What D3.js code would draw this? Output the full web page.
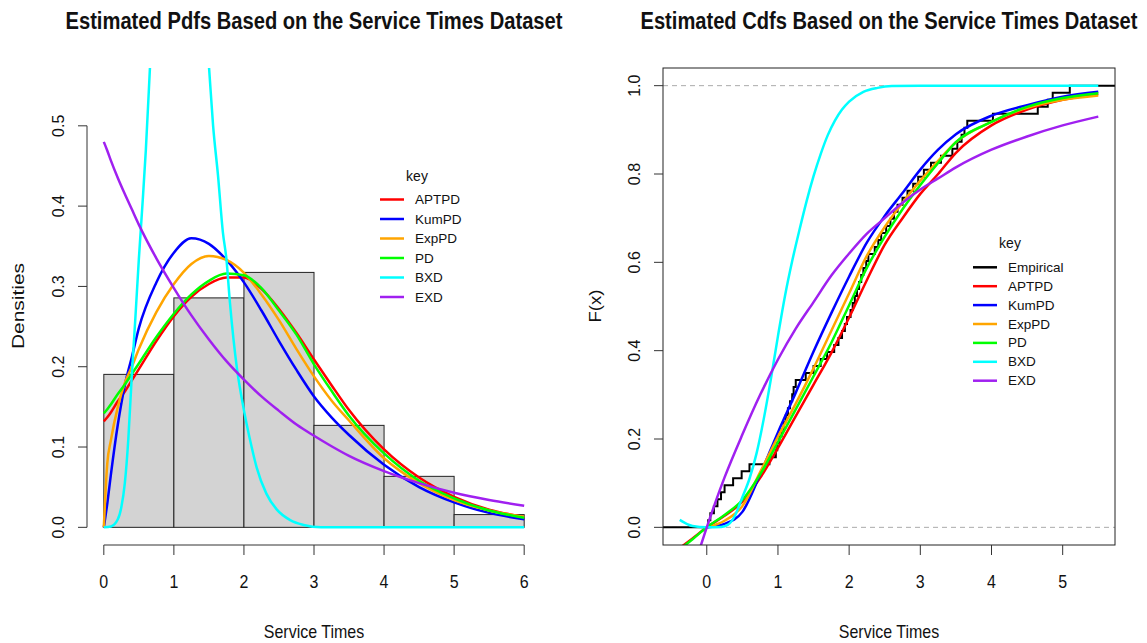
<!DOCTYPE html>
<html>
<head>
<meta charset="utf-8">
<script src="https://cdn.jsdelivr.net/npm/d3@7"></script>
<style>
  body { margin: 0; background: #fff; }
  text { font-family: "Liberation Sans", Arial, sans-serif; fill: #111; }
</style>
</head>
<body>
<svg id="chart" width="1147" height="643"></svg>
<script>
// ---- data ----
const seriesNames = ["APTPD", "KumPD", "ExpPD", "PD", "BXD", "EXD"];
const seriesColors = ["#ff0000", "#0000ff", "#ffa500", "#00ff00", "#00ffff", "#a020f0"];

// service times sample (63 obs), used for the histogram and the empirical cdf
const serviceTimes = [
  0.02, 0.05, 0.10, 0.15, 0.20, 0.25, 0.37, 0.49, 0.60, 0.88, 0.97, 0.99,
  1.02, 1.05, 1.08, 1.11, 1.14, 1.17, 1.20, 1.22, 1.25, 1.39, 1.50, 1.60, 1.69, 1.79, 1.85, 1.90, 1.94, 1.97,
  2.02, 2.05, 2.08, 2.11, 2.14, 2.17, 2.20, 2.24, 2.27, 2.36, 2.41, 2.45, 2.52, 2.58, 2.63, 2.68, 2.75, 2.82, 2.90, 2.97,
  3.05, 3.15, 3.29, 3.45, 3.52, 3.58, 3.62, 3.66,
  4.02, 4.65, 4.79, 4.86,
  5.10
];
const histBreaks = [0, 1, 2, 3, 4, 5, 6];

// fitted densities
const pdfGrid = [0, 0.05, 0.1, 0.2, 0.3, 0.4, 0.5, 0.75, 1, 1.25, 1.5, 1.75, 2, 2.25, 2.5, 2.75, 3, 3.25, 3.5, 4, 4.5, 5, 5.5, 6];
const aptpdPdf = [0.132, 0.137, 0.143, 0.157, 0.169, 0.183, 0.197, 0.232, 0.263, 0.287, 0.303, 0.311, 0.311, 0.297, 0.272, 0.242, 0.209, 0.177, 0.146, 0.097, 0.062, 0.038, 0.022, 0.013];
const kumpdPdf = [0, 0.030, 0.065, 0.128, 0.177, 0.212, 0.248, 0.305, 0.342, 0.360, 0.353, 0.333, 0.305, 0.270, 0.232, 0.196, 0.163, 0.137, 0.115, 0.078, 0.050, 0.031, 0.018, 0.010];
const exppdPdf = [0, 0.080, 0.108, 0.150, 0.180, 0.200, 0.222, 0.268, 0.303, 0.328, 0.338, 0.333, 0.317, 0.290, 0.258, 0.222, 0.188, 0.158, 0.133, 0.086, 0.055, 0.034, 0.021, 0.013];
const pdPdf    = [0.142, 0.147, 0.153, 0.166, 0.178, 0.191, 0.204, 0.237, 0.266, 0.290, 0.307, 0.316, 0.314, 0.298, 0.270, 0.240, 0.203, 0.170, 0.139, 0.092, 0.058, 0.036, 0.021, 0.012];
const exdPdf   = [0.480, 0.469, 0.457, 0.435, 0.415, 0.396, 0.377, 0.335, 0.298, 0.264, 0.234, 0.207, 0.184, 0.163, 0.145, 0.128, 0.114, 0.101, 0.089, 0.070, 0.055, 0.043, 0.034, 0.027];
const bxdPdfGrid = [0, 0.1, 0.2, 0.25, 0.3, 0.35, 0.4, 0.45, 0.5, 0.55, 0.6, 0.66, 0.75, 0.85, 1.0, 1.15, 1.3, 1.4, 1.5, 1.56, 1.63, 1.7, 1.75, 1.8, 1.85, 1.9, 1.97, 2.04, 2.11, 2.18, 2.32, 2.47, 2.66, 2.85, 3.1, 4, 5, 6];
const bxdPdf     = [0, 0.001, 0.01, 0.025, 0.055, 0.11, 0.19, 0.26, 0.334, 0.40, 0.47, 0.575, 0.72, 0.85, 0.95, 0.90, 0.77, 0.68, 0.575, 0.50, 0.438, 0.367, 0.334, 0.28, 0.235, 0.198, 0.16, 0.128, 0.10, 0.075, 0.042, 0.022, 0.009, 0.003, 0, 0, 0, 0];

// fitted cdfs
const cdfGrid = [-0.38, -0.2, 0, 0.25, 0.5, 0.75, 1, 1.25, 1.5, 1.75, 2, 2.25, 2.5, 2.75, 3, 3.25, 3.5, 4, 4.5, 5, 5.5];
const aptpdCdf = [-0.047, -0.025, 0, 0.026, 0.058, 0.112, 0.180, 0.252, 0.323, 0.395, 0.475, 0.560, 0.640, 0.700, 0.755, 0.800, 0.848, 0.910, 0.946, 0.968, 0.981];
const kumpdCdf = [null, null, 0, 0.008, 0.035, 0.120, 0.215, 0.305, 0.398, 0.485, 0.568, 0.645, 0.705, 0.757, 0.810, 0.855, 0.890, 0.932, 0.956, 0.975, 0.986];
const exppdCdf = [null, null, 0, 0.015, 0.048, 0.125, 0.205, 0.280, 0.360, 0.445, 0.530, 0.615, 0.680, 0.735, 0.785, 0.830, 0.872, 0.918, 0.950, 0.968, 0.978];
const pdCdf    = [-0.050, -0.027, 0, 0.028, 0.062, 0.120, 0.193, 0.267, 0.342, 0.418, 0.503, 0.588, 0.658, 0.720, 0.775, 0.825, 0.872, 0.918, 0.952, 0.972, 0.983];
const exdCdf   = [null, -0.100, 0, 0.113, 0.210, 0.300, 0.380, 0.450, 0.510, 0.570, 0.620, 0.665, 0.700, 0.735, 0.765, 0.790, 0.815, 0.855, 0.885, 0.910, 0.930];
const bxdCdfGrid = [-0.38, -0.2, 0, 0.2, 0.3, 0.4, 0.5, 0.6, 0.7, 0.8, 0.9, 1.0, 1.1, 1.2, 1.3, 1.4, 1.5, 1.6, 1.7, 1.8, 1.9, 2.0, 2.2, 2.4, 2.6, 3.0, 4.0, 5.0, 5.5];
const bxdCdf     = [0.017, 0.003, 0, 0.001, 0.006, 0.028, 0.068, 0.110, 0.168, 0.245, 0.335, 0.433, 0.525, 0.603, 0.672, 0.737, 0.795, 0.845, 0.888, 0.921, 0.946, 0.964, 0.986, 0.995, 0.999, 1, 1, 1, 1];

const pdfXTicks = [0, 1, 2, 3, 4, 5, 6];
const pdfYTicks = [0, 0.1, 0.2, 0.3, 0.4, 0.5];
const cdfXTicks = [0, 1, 2, 3, 4, 5];
const cdfYTicks = [0, 0.2, 0.4, 0.6, 0.8, 1.0];

// ---- helpers ----
const svg = d3.select("#chart");
const stretch = 1.15;

function addText(g, x, y, str, o) {
  o = o || {};
  const t = g.append("text").text(str)
    .attr("font-size", o.size || 16)
    .attr("font-weight", o.bold ? "bold" : null)
    .attr("text-anchor", o.anchor || "middle")
    .attr("dominant-baseline", "central");
  const s = o.stretch || 1;
  if (o.rotate) t.attr("transform", `translate(${x},${y}) rotate(-90) scale(${s},1)`);
  else t.attr("transform", `translate(${x},${y}) scale(1,${s})`);
  if (o.len) t.attr("textLength", o.len).attr("lengthAdjust", "spacingAndGlyphs");
  return t;
}

function pairs(grid, vals) {
  return grid.map((x, i) => [x, vals[i]]);
}

function drawLegend(g, x0, y0, step, names, colors) {
  addText(g, x0 + 37, y0 - 24, "key", { size: 14 });
  names.forEach((n, i) => {
    const y = y0 + i * step;
    g.append("line").attr("x1", x0).attr("x2", x0 + 24).attr("y1", y).attr("y2", y)
      .attr("stroke", colors[i]).attr("stroke-width", 2.5);
    addText(g, x0 + 35, y, n, { size: 13.5, anchor: "start" });
  });
}

// ---- left panel: densities ----
const L = { left: 87, right: 541, top: 68, bottom: 545 };
const xL = d3.scaleLinear().domain([-0.24, 6.24]).range([L.left, L.right]);
const yL = d3.scaleLinear().domain([-0.022, 0.572]).range([L.bottom, L.top]);

svg.append("clipPath").attr("id", "clipL").append("rect")
  .attr("x", L.left).attr("y", L.top).attr("width", L.right - L.left).attr("height", L.bottom - L.top);

const gL = svg.append("g");
const bins = d3.bin().domain([0, 6]).thresholds(histBreaks.slice(1, -1))(serviceTimes);
const n = serviceTimes.length;

gL.selectAll("rect.bar").data(bins).enter().append("rect")
  .attr("class", "bar")
  .attr("x", d => xL(d.x0))
  .attr("width", d => xL(d.x1) - xL(d.x0))
  .attr("y", d => yL(d.length / (n * (d.x1 - d.x0))))
  .attr("height", d => yL(0) - yL(d.length / (n * (d.x1 - d.x0))))
  .attr("fill", "#d3d3d3").attr("stroke", "#222").attr("stroke-width", 1);

const lineL = d3.line().x(d => xL(d[0])).y(d => yL(d[1])).curve(d3.curveMonotoneX);
const pdfSeries = [
  pairs(pdfGrid, aptpdPdf), pairs(pdfGrid, kumpdPdf), pairs(pdfGrid, exppdPdf),
  pairs(pdfGrid, pdPdf), pairs(bxdPdfGrid, bxdPdf), pairs(pdfGrid, exdPdf)
];
const curvesL = gL.append("g").attr("clip-path", "url(#clipL)");
pdfSeries.forEach((s, i) => {
  curvesL.append("path").datum(s).attr("d", lineL)
    .attr("fill", "none").attr("stroke", seriesColors[i]).attr("stroke-width", 2.5);
});

// axes (R style: only span the ticks)
const axL = gL.append("g").attr("stroke", "#333");
axL.append("line").attr("x1", xL(0)).attr("x2", xL(6)).attr("y1", L.bottom).attr("y2", L.bottom);
pdfXTicks.forEach(t => {
  axL.append("line").attr("x1", xL(t)).attr("x2", xL(t)).attr("y1", L.bottom).attr("y2", L.bottom + 10);
  addText(gL, xL(t), 582, String(t), { size: 16, stretch: stretch });
});
axL.append("line").attr("x1", L.left).attr("x2", L.left).attr("y1", yL(0)).attr("y2", yL(0.5));
pdfYTicks.forEach(t => {
  axL.append("line").attr("x1", L.left - 9).attr("x2", L.left).attr("y1", yL(t)).attr("y2", yL(t));
  addText(gL, 58, yL(t), t.toFixed(1), { size: 16, rotate: true });
});
addText(gL, (L.left + L.right) / 2, 21, "Estimated Pdfs Based on the Service Times Dataset",
  { size: 20, bold: true, len: 497, stretch: stretch });
addText(gL, (L.left + L.right) / 2, 632, "Service Times", { size: 16, stretch: stretch });
addText(gL, 18, 306, "Densities", { size: 16, rotate: true, len: 86 });
drawLegend(gL, 380, 199.5, 19.5, seriesNames, seriesColors);

// ---- right panel: cdfs ----
const R = { left: 663, right: 1115, top: 68, bottom: 545 };
const xR = d3.scaleLinear().domain([-0.615, 5.735]).range([R.left, R.right]);
const yR = d3.scaleLinear().domain([-0.04, 1.04]).range([R.bottom, R.top]);

svg.append("clipPath").attr("id", "clipR").append("rect")
  .attr("x", R.left).attr("y", R.top).attr("width", R.right - R.left).attr("height", R.bottom - R.top);

const gR = svg.append("g");
const plotR = gR.append("g").attr("clip-path", "url(#clipR)");

[0, 1].forEach(v => {
  plotR.append("line").attr("x1", R.left).attr("x2", R.right).attr("y1", yR(v)).attr("y2", yR(v))
    .attr("stroke", "#aaa").attr("stroke-width", 1).attr("stroke-dasharray", "5,4");
});

// empirical cdf
const sorted = serviceTimes.slice().sort(d3.ascending);
const ecdfPts = [[xR.domain()[0], 0]].concat(sorted.map((v, i) => [v, (i + 1) / n]), [[xR.domain()[1], 1]]);
plotR.append("path").datum(ecdfPts)
  .attr("d", d3.line().x(d => xR(d[0])).y(d => yR(d[1])).curve(d3.curveStepAfter))
  .attr("fill", "none").attr("stroke", "#000").attr("stroke-width", 2);

const lineR = d3.line().defined(d => d[1] !== null)
  .x(d => xR(d[0])).y(d => yR(d[1])).curve(d3.curveMonotoneX);
const cdfSeries = [
  pairs(cdfGrid, aptpdCdf), pairs(cdfGrid, kumpdCdf), pairs(cdfGrid, exppdCdf),
  pairs(cdfGrid, pdCdf), pairs(bxdCdfGrid, bxdCdf), pairs(cdfGrid, exdCdf)
];
cdfSeries.forEach((s, i) => {
  plotR.append("path").datum(s).attr("d", lineR)
    .attr("fill", "none").attr("stroke", seriesColors[i]).attr("stroke-width", 2.5);
});

gR.append("rect").attr("x", R.left).attr("y", R.top)
  .attr("width", R.right - R.left).attr("height", R.bottom - R.top)
  .attr("fill", "none").attr("stroke", "#222").attr("stroke-width", 1);

const axR = gR.append("g").attr("stroke", "#333");
cdfXTicks.forEach(t => {
  axR.append("line").attr("x1", xR(t)).attr("x2", xR(t)).attr("y1", R.bottom).attr("y2", R.bottom + 10);
  addText(gR, xR(t), 582, String(t), { size: 16, stretch: stretch });
});
cdfYTicks.forEach(t => {
  axR.append("line").attr("x1", R.left - 9).attr("x2", R.left).attr("y1", yR(t)).attr("y2", yR(t));
  addText(gR, 634, yR(t), t.toFixed(1), { size: 16, rotate: true });
});
addText(gR, (R.left + R.right) / 2, 21, "Estimated Cdfs Based on the Service Times Dataset",
  { size: 20, bold: true, len: 497, stretch: stretch });
addText(gR, (R.left + R.right) / 2, 632, "Service Times", { size: 16, stretch: stretch });
addText(gR, 595, 306, "F(x)", { size: 16, rotate: true, len: 33 });
drawLegend(gR, 973, 267.3, 18.9, ["Empirical"].concat(seriesNames), ["#000"].concat(seriesColors));
</script>
</body>
</html>
